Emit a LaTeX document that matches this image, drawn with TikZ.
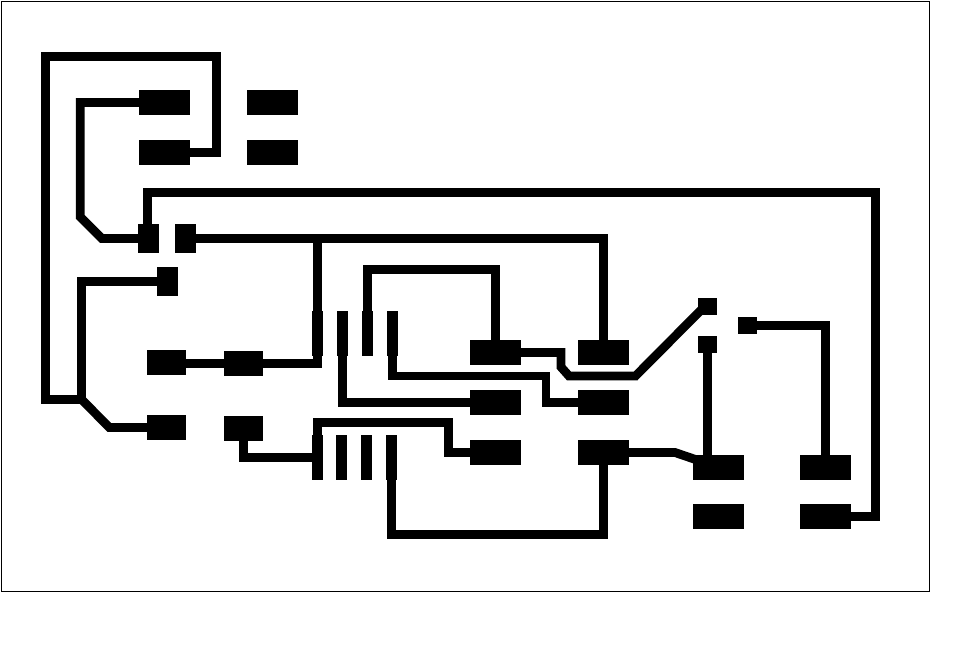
\documentclass[tikz,border=0pt]{standalone}
\begin{document}
\begin{tikzpicture}[x=1pt,y=-1pt,
  pad/.style={fill=black,draw=none,rectangle,inner sep=0pt,outer sep=0pt},
  padwide/.style={pad,minimum width=51pt,minimum height=25pt},
  padmid/.style={pad,minimum width=39pt,minimum height=25pt},
  padtall/.style={pad,minimum width=21pt,minimum height=29pt},
  padsmall/.style={pad,minimum width=19pt,minimum height=17pt},
  padstrip/.style={pad,minimum width=11pt,minimum height=45pt},
  trace/.style={draw=black,line width=8.8pt,line join=miter},
  frameline/.style={draw=black,line width=1pt}]
\useasboundingbox (0,0) rectangle (965,662);
\draw[frameline] (1,1) rectangle (929,591);
% pads
\node[padwide] (P1) at (164.5,102.5) {};
\node[padwide] (P2) at (164.5,152.5) {};
\node[padwide] (P3) at (272.5,102.5) {};
\node[padwide] (P4) at (272.5,152.5) {};
\node[padtall] (Q1) at (148.5,238.4) {};
\node[padtall] (Q2) at (185.5,238.4) {};
\node[padtall] (Q3) at (167.5,281.5) {};
\node[padmid] (R1) at (166.5,362.5) {};
\node[padmid] (R2) at (243.5,363.5) {};
\node[padmid] (R3) at (166.5,427.5) {};
\node[padmid] (R4) at (243.5,428.5) {};
\node[padwide] (S1) at (495.5,352.5) {};
\node[padwide] (S2) at (603.5,352.5) {};
\node[padwide] (S3) at (495.5,402.5) {};
\node[padwide] (S4) at (603.5,402.5) {};
\node[padwide] (S5) at (495.5,452.5) {};
\node[padwide] (S6) at (603.5,452.5) {};
\node[padstrip] (A1) at (317.5,333.5) {};
\node[padstrip] (A2) at (342.5,333.5) {};
\node[padstrip] (A3) at (367.5,333.5) {};
\node[padstrip] (A4) at (392.5,333.5) {};
\node[padstrip] (B1) at (317.5,457.5) {};
\node[padstrip] (B2) at (341.5,457.5) {};
\node[padstrip] (B3) at (366.5,457.5) {};
\node[padstrip] (B4) at (391.5,457.5) {};
\node[padsmall] (T1) at (707.5,306.5) {};
\node[padsmall] (T2) at (707.5,344.5) {};
\node[padsmall] (T3) at (747.5,325.5) {};
\node[padwide] (U1) at (718.5,467.5) {};
\node[padwide] (U2) at (825.5,467.5) {};
\node[padwide] (U3) at (718.5,516.5) {};
\node[padwide] (U4) at (825.5,516.5) {};
% junctions
\coordinate (j1) at (81.5,399.3);
\coordinate (j2) at (317.5,238.4);
% traces
\draw[trace] (P2.east) -- (216.5,152.5) -- (216.5,56.3) -- (45.7,56.3) -- (45.7,399.3) -- (j1);
\draw[trace] (Q3.west) -- (81.5,281.5) -- (j1) -- (109.3,427.5) -- (R3.west);
\draw[trace] (P1.west) -- (80.3,102.5) -- (80.3,217) -- (101.7,238.4) -- (Q1.west);
\draw[trace] ([xshift=-0.8pt]Q1.north) -- (147.7,192.6) -- (875.2,192.6) -- (875.2,516.5) -- (U4.east);
\draw[trace] (Q2.east) -- (603.5,238.4) -- (S2.north);
\draw[trace] (j2) -- (317.5,363.5) -- (R2.east);
\draw[trace] (R1.east |- R2.west) -- (R2.west);
\draw[trace] (A3.north) -- (367.5,269.3) -- (495.5,269.3) -- (S1.north);
\draw[trace] (S1.east) -- (561,352.5) -- (561,367) -- (569,376) -- (635.5,376) -- (705,306);
\draw[trace] (A4.south) -- (392.5,376) -- (546,376) -- (546,402.5) -- (S4.west);
\draw[trace] (A2.south) -- (342.5,402.5) -- (S3.west);
\draw[trace] (B1.north) -- (317.5,422.5) -- (448.7,422.5) -- (448.7,452.5) -- (S5.west);
\draw[trace] (R4.south) -- (243.5,457.5) -- (B1.west);
\draw[trace] (B4.south) -- (391.5,534.3) -- (603.5,534.3) -- (S6.south);
\draw[trace] (S6.east) -- (675,452.5) -- (697,460);
\draw[trace] (T2.south) -- (T2.south |- U1.north);
\draw[trace] (T3.east) -- (825.5,325.5) -- (U2.north);
\end{tikzpicture}
\end{document}
